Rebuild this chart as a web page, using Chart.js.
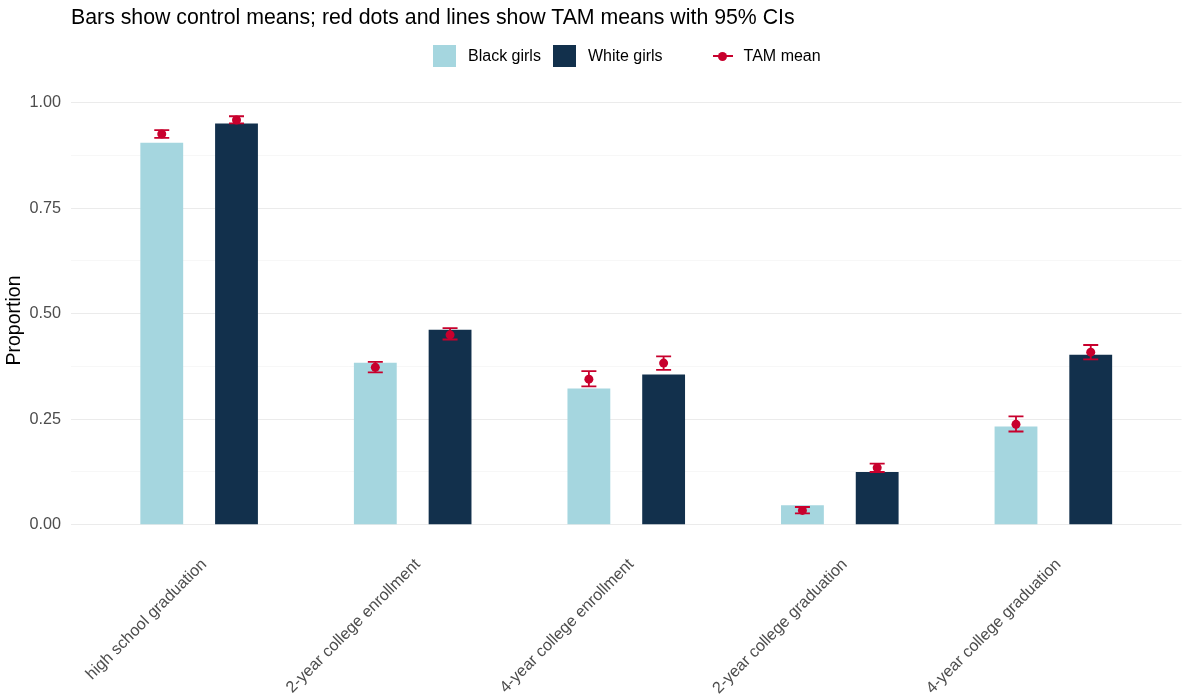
<!DOCTYPE html>
<html>
<head>
<meta charset="utf-8">
<script src="https://cdn.jsdelivr.net/npm/chart.js@4"></script>
<style>
  html, body { margin: 0; padding: 0; background: #fff; }
  #wrap { position: relative; width: 1186px; height: 695px; font-family: "Liberation Sans", Arial, sans-serif; }
  #chart { position: absolute; left: 0; top: 0; }
  #title { position: absolute; left: 71px; top: 5px; font-size: 21.3px; color: #000; white-space: nowrap; }
  #legend { position: absolute; top: 45px; left: 433px; display: flex; align-items: center; font-size: 16px; color: #000; }
  .item { display: flex; align-items: center; margin-right: 12px; }
  .swatch { width: 23px; height: 22px; margin-right: 12px; }
  .key { position: relative; width: 22px; height: 22px; margin-right: 10px; }
  .key .h { position: absolute; left: 1px; right: 1px; top: 10px; height: 2px; }
  .key .dot { position: absolute; left: 6px; top: 6.5px; width: 9px; height: 9px; border-radius: 50%; }
</style>
</head>
<body>
<div id="wrap">
  <canvas id="chart" width="1186" height="695"></canvas>
  <div id="title">Bars show control means; red dots and lines show TAM means with 95% CIs</div>
  <div id="legend"></div>
</div>
<script>
// Outcomes along the x axis
const categories = [
  "high school graduation",
  "2-year college enrollment",
  "4-year college enrollment",
  "2-year college graduation",
  "4-year college graduation"
];
const groups = ["Black girls", "White girls"];
const tamLabel = "TAM mean";

// Control-group means (bars)
const controlBlack = [0.905, 0.384, 0.323, 0.046, 0.233];
const controlWhite = [0.951, 0.462, 0.356, 0.125, 0.403];

// TAM means with 95% confidence limits
const tamBlack     = [0.926, 0.373, 0.345, 0.034, 0.238];
const tamBlackLow  = [0.917, 0.361, 0.328, 0.027, 0.221];
const tamBlackHigh = [0.935, 0.386, 0.364, 0.042, 0.257];
const tamWhite     = [0.959, 0.450, 0.383, 0.135, 0.409];
const tamWhiteLow  = [0.951, 0.439, 0.367, 0.125, 0.392];
const tamWhiteHigh = [0.968, 0.466, 0.399, 0.145, 0.426];

// Axis breaks
const yMajor = [0, 0.25, 0.5, 0.75, 1];
const yMinor = [0.125, 0.375, 0.625, 0.875];

const colors = { black: "#A5D6DF", white: "#12304C", tam: "#C8002D" };
const dodge = 0.175;      // half the distance between paired bars, in category units
const capHalf = 7.5;      // error-bar cap half-width, px

const atDodge = (vals, side) => vals.map((v, i) => ({ x: i + side * dodge, y: v }));

// Draw each CI line and caps just before its TAM points
const errorBars = {
  id: "errorBars",
  beforeDatasetDraw(chart, args) {
    const ds = chart.data.datasets[args.index];
    if (!ds.ciLow) return;
    const ctx = chart.ctx, ys = chart.scales.y;
    ctx.save();
    ctx.strokeStyle = ds.borderColor;
    ctx.lineWidth = 1.8;
    args.meta.data.forEach((pt, i) => {
      const top = ys.getPixelForValue(ds.ciHigh[i]);
      const bot = ys.getPixelForValue(ds.ciLow[i]);
      ctx.beginPath();
      ctx.moveTo(pt.x, top); ctx.lineTo(pt.x, bot);
      ctx.moveTo(pt.x - capHalf, top); ctx.lineTo(pt.x + capHalf, top);
      ctx.moveTo(pt.x - capHalf, bot); ctx.lineTo(pt.x + capHalf, bot);
      ctx.stroke();
    });
    ctx.restore();
  }
};

const barCommon = { type: "bar", grouped: false, barPercentage: 0.573, categoryPercentage: 1, order: 2, borderWidth: 0 };
const tamCommon = { type: "scatter", order: 0, backgroundColor: colors.tam, borderColor: colors.tam,
                    pointRadius: 4.5, pointBorderWidth: 0, pointHoverRadius: 4.5 };

new Chart(document.getElementById("chart"), {
  data: {
    datasets: [
      { ...barCommon, label: groups[0], data: atDodge(controlBlack, -1), backgroundColor: colors.black },
      { ...barCommon, label: groups[1], data: atDodge(controlWhite, 1), backgroundColor: colors.white },
      { ...tamCommon, label: tamLabel, data: atDodge(tamBlack, -1), ciLow: tamBlackLow, ciHigh: tamBlackHigh },
      { ...tamCommon, label: tamLabel, data: atDodge(tamWhite, 1), ciLow: tamWhiteLow, ciHigh: tamWhiteHigh }
    ]
  },
  options: {
    responsive: false,
    animation: false,
    layout: { padding: { top: 96, right: 1, left: 0, bottom: 0 } },
    plugins: { legend: { display: false }, tooltip: { enabled: false }, title: { display: false } },
    scales: {
      x: {
        type: "linear", min: -0.6, max: 4.6, offset: false,
        grid: { display: false, offset: false }, border: { display: false },
        afterBuildTicks: s => { s.ticks = categories.map((_, i) => ({ value: i })); },
        afterFit: s => { s.height = 150; },
        ticks: {
          autoSkip: false, minRotation: 45, maxRotation: 45, padding: 2, labelOffset: 5,
          color: "#4D4D4D", font: { family: "Liberation Sans", size: 16.2 },
          callback: v => categories[v]
        }
      },
      y: {
        min: -0.048, max: 1.016,
        afterBuildTicks: s => { s.ticks = [...yMajor, ...yMinor].sort((a, b) => a - b).map(v => ({ value: v })); },
        afterFit: s => { s.width = 71; },
        border: { display: false },
        grid: {
          drawTicks: false,
          color: c => yMajor.includes(c.tick.value) ? "#EBEBEB" : "#F2F2F2",
          lineWidth: c => yMajor.includes(c.tick.value) ? 1.1 : 0.6
        },
        ticks: {
          padding: 10, color: "#4D4D4D", font: { family: "Liberation Sans", size: 16.2 },
          callback: v => yMajor.includes(v) ? v.toFixed(2) : ""
        },
        title: {
          display: true, text: "Proportion", color: "#000",
          font: { family: "Liberation Sans", size: 19.5 }, padding: { top: 3, bottom: 0 }
        }
      }
    }
  },
  plugins: [errorBars]
});

// Legend: two fill keys and the TAM point-range key
const legend = document.getElementById("legend");
groups.forEach((g, i) => {
  const it = document.createElement("div");
  it.className = "item";
  it.innerHTML = `<span class="swatch" style="background:${i ? colors.white : colors.black}"></span><span>${g}</span>`;
  legend.appendChild(it);
});
const tamItem = document.createElement("div");
tamItem.className = "item";
tamItem.style.marginLeft = "37px";
tamItem.innerHTML = `<span class="key"><span class="h" style="background:${colors.tam}"></span><span class="dot" style="background:${colors.tam}"></span></span><span>${tamLabel}</span>`;
legend.appendChild(tamItem);
</script>
</body>
</html>
